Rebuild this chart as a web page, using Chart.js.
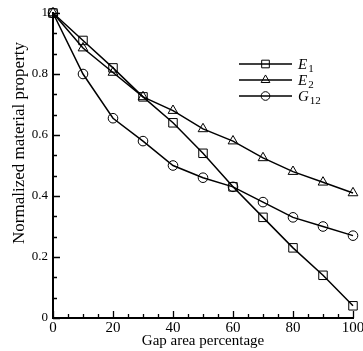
<!DOCTYPE html>
<html>
<head>
<meta charset="utf-8">
<script src="https://cdn.jsdelivr.net/npm/chart.js@4"></script>
<style>
  html, body { margin: 0; padding: 0; background: #fff; }
  canvas { display: block; }
</style>
</head>
<body>
<canvas id="chart" width="363" height="351"></canvas>
<script>
const gapArea   = [0, 10, 20, 30, 40, 50, 60, 70, 80, 90, 100];
const e1Values  = [1.0, 0.91, 0.82, 0.725, 0.64, 0.54, 0.43, 0.33, 0.23, 0.14, 0.04];
const e2Values  = [1.0, 0.885, 0.805, 0.725, 0.68, 0.62, 0.58, 0.525, 0.48, 0.445, 0.41];
const g12Values = [1.0, 0.80, 0.655, 0.58, 0.50, 0.46, 0.43, 0.38, 0.33, 0.30, 0.27];
const seriesNames = [['E', '1'], ['E', '2'], ['G', '12']];
const xTicks = [0, 20, 40, 60, 80, 100];
const yTicks = [0, 0.2, 0.4, 0.6, 0.8, 1];
const xTitle = 'Gap area percentage';
const yTitle = 'Normalized material property';

const serif = "'Liberation Serif', 'Times New Roman', serif";

const points = values => values.map((v, i) => ({ x: gapArea[i], y: v }));

const series = [
    { values: e1Values,  style: 'rect',     radius: 6 },
    { values: e2Values,  style: 'triangle', radius: 5.6 },
    { values: g12Values, style: 'circle',   radius: 4.8 },
];

// inward tick marks, Tecplot style
const tickMarks = {
    id: 'tickMarks',
    afterDatasetsDraw(chart) {
        const { ctx, chartArea, scales: { x, y } } = chart;
        ctx.save();
        ctx.strokeStyle = '#000';
        ctx.lineWidth = 1.3;
        ctx.beginPath();
        const draw = (scale, majors, parts, vertical) => {
            majors.forEach((v, i) => {
                const list = [[v, 7]];
                if (i < majors.length - 1) {
                    const step = (majors[i + 1] - v) / parts;
                    for (let k = 1; k < parts; k++) list.push([v + k * step, 4]);
                }
                list.forEach(([val, len]) => {
                    const p = Math.round(scale.getPixelForValue(val)) + 0.5;
                    if (vertical) {
                        ctx.moveTo(p, chartArea.bottom);
                        ctx.lineTo(p, chartArea.bottom - len);
                    } else {
                        ctx.moveTo(chartArea.left, p);
                        ctx.lineTo(chartArea.left + len, p);
                    }
                });
            });
        };
        draw(x, xTicks, 4, true);
        draw(y, yTicks, 3, false);
        ctx.stroke();
        ctx.restore();
    },
};

const sideTitle = {
    id: 'sideTitle',
    afterDraw(chart) {
        const { ctx } = chart;
        ctx.save();
        ctx.translate(20, 143);
        ctx.rotate(-Math.PI / 2);
        ctx.font = `17px ${serif}`;
        ctx.fillStyle = '#000';
        ctx.textAlign = 'center';
        ctx.textBaseline = 'middle';
        ctx.fillText(yTitle, 0, 0);
        ctx.restore();
    },
};

const keyBox = {
    id: 'keyBox',
    afterDraw(chart) {
        const { ctx } = chart;
        ctx.save();
        chart.data.datasets.forEach((ds, i) => {
            const cy = 64 + i * 16;
            ctx.strokeStyle = '#000';
            ctx.lineWidth = 1.5;
            ctx.beginPath();
            ctx.moveTo(239, cy);
            ctx.lineTo(292, cy);
            ctx.stroke();
            ctx.fillStyle = 'rgba(0,0,0,0)';
            ctx.lineWidth = 1;
            Chart.helpers.drawPoint(ctx, {
                pointStyle: ds.pointStyle,
                radius: ds.pointRadius * 0.9,
                rotation: 0,
                borderWidth: 1,
            }, 265.5, cy);

            const [main, sub] = seriesNames[i];
            ctx.fillStyle = '#000';
            ctx.textBaseline = 'alphabetic';
            ctx.textAlign = 'left';
            ctx.font = `italic 15px ${serif}`;
            ctx.fillText(main, 298, cy + 5);
            const w = ctx.measureText(main).width;
            ctx.font = `11px ${serif}`;
            ctx.fillText(sub, 298 + w + 1, cy + 8);
        });
        ctx.restore();
    },
};

new Chart(document.getElementById('chart'), {
    type: 'line',
    data: {
        datasets: series.map((s, i) => ({
            label: seriesNames[i].join(''),
            data: points(s.values),
            borderColor: '#000',
            borderWidth: 1.5,
            pointStyle: s.style,
            pointRadius: s.radius,
            pointBorderWidth: 1,
            pointBorderColor: '#000',
            pointBackgroundColor: 'rgba(0,0,0,0)',
            tension: 0,
            clip: false,
        })),
    },
    options: {
        responsive: false,
        animation: false,
        events: [],
        layout: { padding: { top: 13, right: 10, left: 0, bottom: 0 } },
        plugins: { legend: { display: false }, tooltip: { enabled: false } },
        scales: {
            x: {
                type: 'linear',
                min: 0,
                max: 100,
                afterBuildTicks: s => { s.ticks = xTicks.map(v => ({ value: v })); },
                afterFit: s => { s.height = 33; s.paddingLeft = 0; s.paddingRight = 0; },
                grid: { display: false, drawTicks: false },
                border: { display: true, color: '#000', width: 2 },
                ticks: {
                    color: '#000',
                    padding: 1,
                    maxRotation: 0,
                    font: { family: serif, size: 15 },
                    callback: v => String(v),
                },
                title: {
                    display: true,
                    text: xTitle,
                    color: '#000',
                    padding: { top: 0, bottom: 1 },
                    font: { family: serif, size: 15 },
                },
            },
            y: {
                type: 'linear',
                min: 0,
                max: 1,
                afterBuildTicks: s => { s.ticks = yTicks.map(v => ({ value: v })); },
                afterFit: s => { s.width = 53; s.paddingTop = 0; s.paddingBottom = 0; },
                grid: { display: false, drawTicks: false },
                border: { display: true, color: '#000', width: 2 },
                ticks: {
                    color: '#000',
                    padding: 5,
                    font: { family: serif, size: 13 },
                    callback: v => String(v),
                },
            },
        },
    },
    plugins: [tickMarks, sideTitle, keyBox],
});
</script>
</body>
</html>
